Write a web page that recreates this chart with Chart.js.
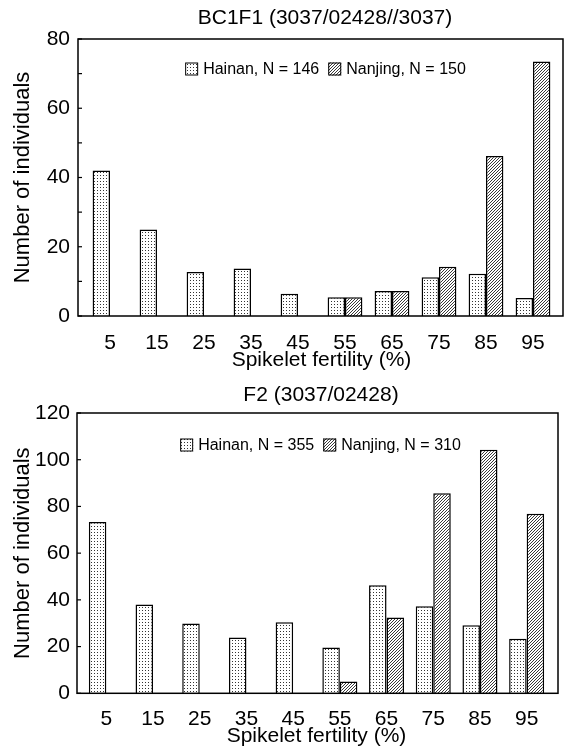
<!DOCTYPE html>
<html><head><meta charset="utf-8">
<script src="https://cdn.jsdelivr.net/npm/chart.js@4.4.0/dist/chart.umd.min.js"></script>
<style>
html,body{margin:0;padding:0;background:#fff;}
#wrap{position:relative;width:569px;height:747px;overflow:hidden;}
canvas{position:absolute;left:0;}
</style></head><body>
<div id="wrap">
<canvas id="c1" width="569" height="372" style="top:0px"></canvas>
<canvas id="c2" width="569" height="375" style="top:372px"></canvas>
</div>
<script>
const categories = ['5','15','25','35','45','55','65','75','85','95'];
const bc1f1Hainan  = [42, 25, 12.7, 13.7, 6.4, 5.4, 7.2, 11.2, 12.2, 5.2];
const bc1f1Nanjing = [null, null, null, null, null, 5.4, 7.2, 14.2, 46.2, 73.5];
const f2Hainan  = [73.3, 38, 29.9, 23.9, 30.4, 19.6, 46.3, 37.3, 29.1, 23.4];
const f2Nanjing = [null, null, null, null, null, 5, 32.4, 85.6, 104.3, 76.9];
const bc1f1Legend = ['Hainan, N = 146', 'Nanjing, N = 150'];
const f2Legend = ['Hainan, N = 355', 'Nanjing, N = 310'];
const chartTitles = ['BC1F1 (3037/02428//3037)', 'F2 (3037/02428)'];
const xTitle = 'Spikelet fertility (%)';
const yTitle = 'Number of individuals';
const bc1f1YMax = 80;
const f2YMax = 120;

const FONT = "'Liberation Sans', Arial, Helvetica, sans-serif";
Chart.defaults.font.family = FONT;
Chart.defaults.color = '#000';

function dotPattern(ctx){
  const c = document.createElement('canvas'); c.width = 3; c.height = 3;
  const x = c.getContext('2d');
  x.fillStyle = '#fff'; x.fillRect(0,0,3,3);
  x.fillStyle = '#333'; x.fillRect(1,1,1,1);
  return ctx.createPattern(c, 'repeat');
}
function hatchPattern(ctx){
  const s = 3;
  const c = document.createElement('canvas'); c.width = s; c.height = s;
  const x = c.getContext('2d');
  x.fillStyle = '#fff'; x.fillRect(0,0,s,s);
  x.strokeStyle = '#222'; x.lineWidth = 0.9;
  x.beginPath();
  x.moveTo(0, s); x.lineTo(s, 0);
  x.moveTo(-1, 1); x.lineTo(1, -1);
  x.moveTo(s-1, s+1); x.lineTo(s+1, s-1);
  x.stroke();
  return ctx.createPattern(c, 'repeat');
}

const framePlugin = {
  id: 'frame',
  afterDatasetsDraw(chart, args, o){
    const ctx = chart.ctx, ca = chart.chartArea;
    const L = ca.left - o.padLeft, R = ca.right + o.padRight;
    ctx.save();
    ctx.strokeStyle = '#000'; ctx.lineWidth = 1.5;
    ctx.strokeRect(L, ca.top, R - L, ca.bottom - ca.top);
    const ys = chart.scales.y;
    ctx.lineWidth = 1.2;
    ys.ticks.forEach(t => {
      const y = ys.getPixelForValue(t.value);
      ctx.beginPath(); ctx.moveTo(L, y); ctx.lineTo(L + 4, y); ctx.stroke();
    });
    ctx.restore();
  }
};

const titlePlugin = {
  id: 'plotTitle',
  afterDraw(chart, args, o){
    const ctx = chart.ctx, ca = chart.chartArea;
    ctx.save();
    ctx.font = o.fontSize + 'px ' + FONT;
    ctx.fillStyle = '#000'; ctx.textAlign = 'center'; ctx.textBaseline = 'middle';
    ctx.fillText(o.text, (ca.left + ca.right) / 2 + o.dx, o.y);
    ctx.restore();
  }
};

const legendPlugin = {
  id: 'innerLegend',
  afterDraw(chart, args, o){
    const ctx = chart.ctx, ca = chart.chartArea;
    ctx.save();
    ctx.font = o.fontSize + 'px ' + FONT;
    const box = 13, gap = 5, itemGap = 9;
    const ds = chart.data.datasets;
    const widths = ds.map(d => box + gap + ctx.measureText(d.label).width);
    const total = widths.reduce((a,b)=>a+b,0) + itemGap * (ds.length - 1);
    let x = (ca.left + ca.right) / 2 + o.dx - total / 2;
    const y = ca.top + o.dy;
    ds.forEach((d, i) => {
      ctx.fillStyle = d.backgroundColor;
      ctx.fillRect(x, y - box/2, box, box);
      ctx.strokeStyle = '#000'; ctx.lineWidth = 1;
      ctx.strokeRect(x + 0.5, y - box/2 + 0.5, box - 1, box - 1);
      ctx.fillStyle = '#000'; ctx.textBaseline = 'middle'; ctx.textAlign = 'left';
      ctx.fillText(d.label, x + box + gap, y + 1);
      x += widths[i] + itemGap;
    });
    ctx.restore();
  }
};

function makeChart(id, cfg){
  const canvas = document.getElementById(id);
  const ctx = canvas.getContext('2d');
  return new Chart(ctx, {
    type: 'bar',
    data: {
      labels: categories,
      datasets: [
        { label: cfg.legend[0], data: cfg.hainan, backgroundColor: dotPattern(ctx),
          borderColor: '#000', borderWidth: 1.5, categoryPercentage: cfg.catPct, barPercentage: 1.0 },
        { label: cfg.legend[1], data: cfg.nanjing, backgroundColor: hatchPattern(ctx),
          borderColor: '#000', borderWidth: 1.5, categoryPercentage: cfg.catPct, barPercentage: 1.0 }
      ]
    },
    options: {
      responsive: false, animation: false, devicePixelRatio: 1,
      layout: { padding: { left: 0, right: cfg.padRight, top: cfg.padTop, bottom: 0 } },
      plugins: {
        legend: { display: false },
        tooltip: { enabled: false },
        title: { display: false },
        plotTitle: { text: cfg.title, fontSize: 21, dx: cfg.titleDx, y: cfg.titleY },
        frame: { padLeft: cfg.frameL, padRight: cfg.frameR },
        innerLegend: { fontSize: 16, dx: cfg.legDx, dy: cfg.legDy }
      },
      scales: {
        x: {
          grid: { display: false }, border: { display: false },
          ticks: { font: { size: 21, family: FONT }, color: '#000', padding: cfg.xTickPad, maxRotation: 0 },
          title: { display: true, text: xTitle, color: '#000',
            font: { size: 21, family: FONT, lineHeight: 1 }, padding: { top: 0, bottom: cfg.xTitlePad } },
          afterFit: s => { s.height = cfg.xHeight; }
        },
        y: {
          min: 0, max: cfg.yMax,
          grid: { display: false, drawTicks: false }, border: { display: false },
          ticks: { stepSize: 10, font: { size: 21, family: FONT }, color: '#000', padding: cfg.yTickPad,
            callback: v => (v % 20 === 0 ? String(v) : '') },
          title: { display: true, text: yTitle, color: '#000',
            font: { size: 22, family: FONT, lineHeight: 1 }, padding: { top: 11.5, bottom: 0 } },
          afterFit: s => { s.width = cfg.yWidth; }
        }
      }
    },
    plugins: [framePlugin, legendPlugin, titlePlugin]
  });
}

makeChart('c1', {
  legend: bc1f1Legend, hainan: bc1f1Hainan, nanjing: bc1f1Nanjing, title: chartTitles[0],
  yMax: bc1f1YMax, catPct: 0.74, padRight: 12.5, padTop: 39, yWidth: 86.5, xHeight: 56,
  titleDx: 3.5, titleY: 18, frameL: 8.5, frameR: 6.5,
  xTickPad: 7, xTitlePad: 1.5, yTickPad: 16.5, legDx: 4, legDy: 30
});
makeChart('c2', {
  legend: f2Legend, hainan: f2Hainan, nanjing: f2Nanjing, title: chartTitles[1],
  yMax: f2YMax, catPct: 0.75, padRight: 19, padTop: 41, yWidth: 83, xHeight: 53.7,
  titleDx: 4.5, titleY: 23, frameL: 6, frameR: 8,
  xTickPad: 5, xTitlePad: 0, yTickPad: 13, legDx: 4, legDy: 32
});
</script>
</body></html>
